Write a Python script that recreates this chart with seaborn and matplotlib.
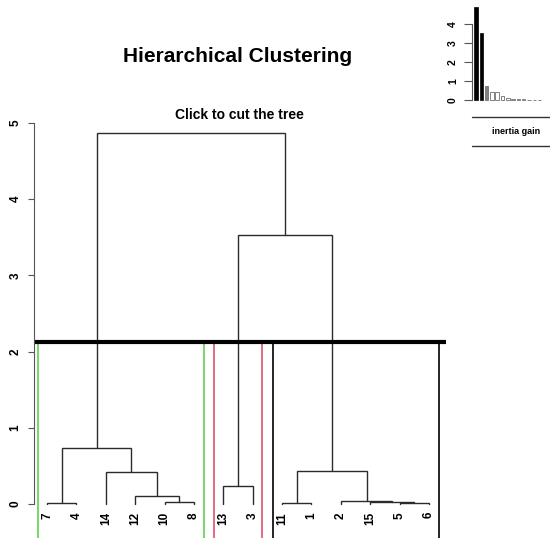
import matplotlib
matplotlib.use("Agg")
import matplotlib.pyplot as plt
from matplotlib.lines import Line2D
from matplotlib.patches import Rectangle
import numpy as np
import seaborn as sns

# === данные дерева ===
leaf_labels = ["7", "4", "14", "12", "10", "8", "13", "3", "11", "1", "2", "15", "5", "6"]
# узлы < 14 - листья в порядке отображения, далее узлы по порядку слияния
merge_left = [0, 4, 3, 2, 14, 6, 8, 12, 11, 10, 20, 19, 18]
merge_right = [1, 5, 15, 16, 17, 7, 9, 13, 21, 22, 23, 24, 25]
merge_height = [0.013, 0.03, 0.10, 0.42, 0.73, 0.23, 0.013, 0.013, 0.03, 0.045, 0.43, 3.53, 4.87]
cluster_sizes = [6, 2, 6]
cluster_colors = ["#61D04F", "#DF536B", "black"]
cut_height = 2.13

# прирост инерции = высоты слияний по убыванию
inertia_gain = sorted(merge_height, reverse=True)

sns.set_theme(style="white")
plt.rcParams['font.family'] = ['Liberation Sans', 'DejaVu Sans']
plt.rcParams['text.color'] = 'black'
plt.rcParams['ytick.color'] = '#555555'
plt.rcParams['ytick.labelcolor'] = 'black'

W, H = 550, 538
fig = plt.figure(figsize=(W / 100, H / 100), dpi=100)
fig.patch.set_facecolor("white")

# === основная дендрограмма ===
ax = fig.add_axes([34 / W, 0, (450 - 34) / W, 438 / H])
ax.set_facecolor("white")
n = len(leaf_labels)
xpos = {i: i + 1.0 for i in range(n)}
ypos = {i: 0.0 for i in range(n)}
lc = "#2b2b2b"
for k, (a, b, h) in enumerate(zip(merge_left, merge_right, merge_height)):
    xa, xb = xpos[a], xpos[b]
    ax.plot([xa, xa, xb, xb], [ypos[a], h, h, ypos[b]], color=lc, lw=1.0,
            solid_joinstyle="miter")
    node = n + k
    xpos[node] = (xa + xb) / 2
    ypos[node] = h

for i, lab in enumerate(leaf_labels):
    ax.text(i + 1, -0.105, lab, rotation=90, ha="center", va="top",
            fontsize=8.5, fontweight="bold", color="black")

# прямоугольники кластеров (как rect.hclust)
m = np.concatenate([[0], np.cumsum(cluster_sizes)])
for j, col in enumerate(cluster_colors):
    left = m[j] + 0.7
    right = m[j + 1] + 0.33
    ax.add_patch(Rectangle((left, -2), right - left, cut_height + 2, fill=False,
                           edgecolor=col, lw=1.2))

xlim = (0.5575, 14.716)
ax.plot([xlim[0], 14.58], [cut_height, cut_height], color="black", lw=3,
        solid_capstyle="butt")

ax.set_xlim(*xlim)
ax.set_ylim(-0.446, 5.30)
ax.set_xticks([])
ax.set_yticks([0, 1, 2, 3, 4, 5])
ax.tick_params(axis="y", left=True, length=4, width=0.8, color="#555555",
               labelcolor="black", labelrotation=90, labelsize=8.5, pad=5)
for t in ax.get_yticklabels():
    t.set_fontweight("bold")
    t.set_va("center")
sns.despine(ax=ax, top=True, right=True, bottom=True)
ax.spines["left"].set_bounds(0, 5)
ax.spines["left"].set_color("#555555")
ax.spines["left"].set_linewidth(0.8)
ax.text(7.55, 5.10, "Click to cut the tree", ha="center", va="center",
        fontsize=10, fontweight="bold", color="black")

fig.text(238 / W, 1 - 56 / H, "Hierarchical Clustering", ha="center", va="center",
         fontsize=15, fontweight="bold", color="black")

# === вставка: прирост инерции ===
ax_in = fig.add_axes([472 / W, (H - 102) / H, (W - 472) / W, 97 / H])
ax_in.set_facecolor("white")
sns.barplot(x=list(range(len(inertia_gain))), y=inertia_gain, ax=ax_in, width=0.65,
            color="black", saturation=1)
for i, p in enumerate(ax_in.patches):
    if i < len(cluster_sizes) - 1:
        p.set_facecolor("black"); p.set_edgecolor("black")
    elif i == len(cluster_sizes) - 1:
        p.set_facecolor("#808080"); p.set_edgecolor("#606060")
    else:
        p.set_facecolor("white"); p.set_edgecolor("#505050")
    p.set_linewidth(0.5)
ax_in.set_xlim(-0.75, 13.96)
ax_in.set_ylim(-0.105, 5.0)
ax_in.set_xticks([])
ax_in.set_xlabel("")
ax_in.set_yticks([0, 1, 2, 3, 4])
ax_in.tick_params(axis="y", left=True, length=6, width=0.8, color="#555555",
                  labelcolor="black", labelrotation=90, labelsize=7.5, pad=4)
for t in ax_in.get_yticklabels():
    t.set_fontweight("bold")
    t.set_va("center")
sns.despine(ax=ax_in, top=True, right=True, bottom=True)
ax_in.spines["left"].set_bounds(0, 4)
ax_in.spines["left"].set_color("#555555")
ax_in.spines["left"].set_linewidth(0.8)

for yy in (117, 146):
    fig.add_artist(Line2D([472 / W, 1.0], [1 - yy / H] * 2, color="#333333", lw=1,
                          transform=fig.transFigure))
fig.text(516 / W, 1 - 132 / H, "inertia gain", ha="center", va="center",
         fontsize=6.5, fontweight="bold", color="black")

fig.savefig("out.png", dpi=100, facecolor="white")
